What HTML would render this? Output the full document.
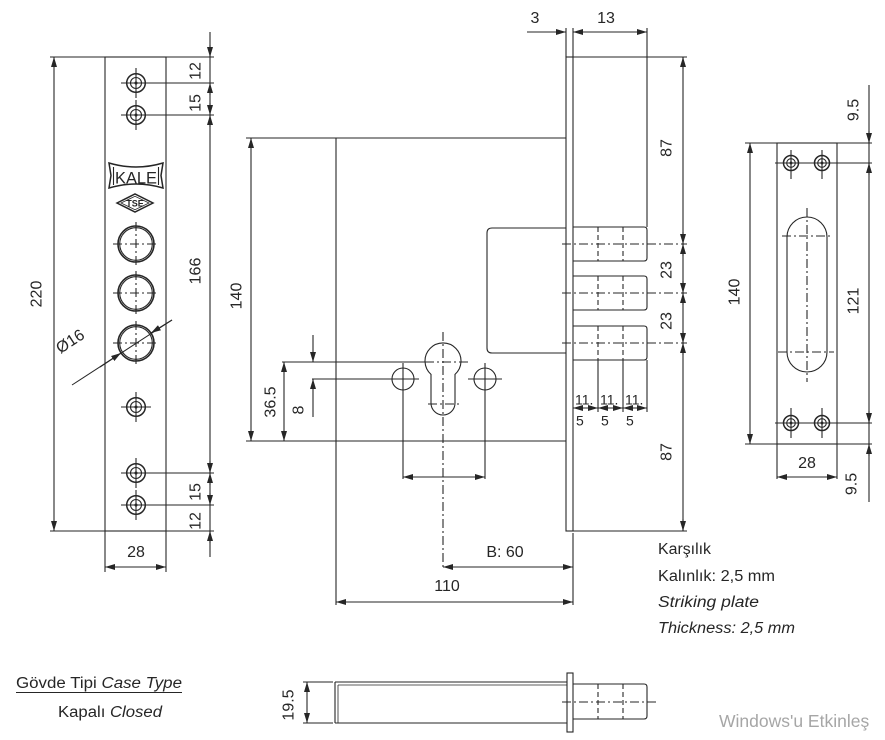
<!DOCTYPE html>
<html><head><meta charset="utf-8"><style>
html,body{margin:0;padding:0;background:#fff;}
svg{display:block;}
svg line,svg path,svg rect,svg circle,svg polygon{stroke:#262626;fill:none;stroke-width:1.1;}
.c{stroke-dasharray:9 3 2 3;}
.h{stroke-dasharray:5 3;}
.t{font-family:"Liberation Sans",sans-serif;font-size:16px;fill:#262626;}
.s{font-size:14px;}
.lab{font-size:15.5px;}
</style></head><body>
<svg width="885" height="740" viewBox="0 0 885 740" xmlns="http://www.w3.org/2000/svg">
<defs>
<marker id="e" viewBox="0 0 10 6" refX="10" refY="3" markerWidth="10" markerHeight="6" markerUnits="userSpaceOnUse" orient="auto"><path d="M0,0 L10,3 L0,6z" style="fill:#262626;stroke:none"/></marker>
<marker id="s" viewBox="0 0 10 6" refX="0" refY="3" markerWidth="10" markerHeight="6" markerUnits="userSpaceOnUse" orient="auto"><path d="M10,0 L0,3 L10,6z" style="fill:#262626;stroke:none"/></marker>
</defs>

<!-- ===== LEFT FACEPLATE ===== -->
<rect x="105" y="57" width="61" height="474"/>
<line x1="50" y1="57" x2="214" y2="57"/>
<line x1="50" y1="531" x2="214" y2="531"/>
<line x1="54" y1="57" x2="54" y2="531" marker-start="url(#s)" marker-end="url(#e)"/>
<line x1="210" y1="32" x2="210" y2="557"/>
<g marker-end="url(#e)">
<line x1="210" y1="45" x2="210" y2="57"/>
<line x1="210" y1="95" x2="210" y2="83"/>
<line x1="210" y1="103" x2="210" y2="115"/>
<line x1="210" y1="127" x2="210" y2="115"/>
<line x1="210" y1="461" x2="210" y2="473"/>
<line x1="210" y1="485" x2="210" y2="473"/>
<line x1="210" y1="493" x2="210" y2="505"/>
<line x1="210" y1="543" x2="210" y2="531"/>
</g>
<!-- small holes -->
<g>
<line x1="121" y1="83" x2="214" y2="83"/><line x1="136" y1="68" x2="136" y2="98"/>
<circle cx="136" cy="83" r="9.3" style="stroke-width:1.5"/><circle cx="136" cy="83" r="5.5"/><circle cx="136" cy="83" r="1" style="fill:#262626"/>
<line x1="121" y1="115" x2="214" y2="115"/><line x1="136" y1="100" x2="136" y2="130"/>
<circle cx="136" cy="115" r="9.3" style="stroke-width:1.5"/><circle cx="136" cy="115" r="5.5"/><circle cx="136" cy="115" r="1" style="fill:#262626"/>
<line x1="121" y1="407" x2="151" y2="407"/><line x1="136" y1="392" x2="136" y2="422"/>
<circle cx="136" cy="407" r="9.3" style="stroke-width:1.5"/><circle cx="136" cy="407" r="5.5"/><circle cx="136" cy="407" r="1" style="fill:#262626"/>
<line x1="121" y1="473" x2="214" y2="473"/><line x1="136" y1="458" x2="136" y2="488"/>
<circle cx="136" cy="473" r="9.3" style="stroke-width:1.5"/><circle cx="136" cy="473" r="5.5"/><circle cx="136" cy="473" r="1" style="fill:#262626"/>
<line x1="121" y1="505" x2="214" y2="505"/><line x1="136" y1="490" x2="136" y2="520"/>
<circle cx="136" cy="505" r="9.3" style="stroke-width:1.5"/><circle cx="136" cy="505" r="5.5"/><circle cx="136" cy="505" r="1" style="fill:#262626"/>
</g>
<!-- big circles -->
<g>
<circle cx="136" cy="244" r="18" style="stroke-width:1.6"/><circle cx="136" cy="244" r="16.3"/>
<line class="c" x1="113" y1="244" x2="159" y2="244"/><line class="c" x1="136" y1="222" x2="136" y2="266"/>
<circle cx="136" cy="293" r="18" style="stroke-width:1.6"/><circle cx="136" cy="293" r="16.3"/>
<line class="c" x1="113" y1="293" x2="159" y2="293"/><line class="c" x1="136" y1="271" x2="136" y2="315"/>
<circle cx="136" cy="343" r="18" style="stroke-width:1.6"/><circle cx="136" cy="343" r="16.3"/>
<line class="c" x1="113" y1="343" x2="159" y2="343"/><line class="c" x1="136" y1="321" x2="136" y2="365"/>
</g>
<!-- Ø16 leader -->
<line x1="72" y1="385" x2="172" y2="320" style="stroke-width:1"/>
<line x1="100" y1="367" x2="121" y2="353" marker-end="url(#e)"/>
<line x1="172" y1="320" x2="151" y2="333" marker-end="url(#e)"/>
<text class="t" transform="translate(70,341) rotate(-33)" text-anchor="middle" dy="0.35em">Ø16</text>
<!-- logo -->
<path d="M109,163 Q136,171 163,163 L161,175.5 L163,188 Q136,180 109,188 L111,175.5 Z" style="stroke-width:1.5"/>
<line x1="113.5" y1="167" x2="113.5" y2="185"/>
<line x1="158.5" y1="167" x2="158.5" y2="185"/>
<text class="t" x="136" y="183.5" text-anchor="middle" textLength="42" lengthAdjust="spacingAndGlyphs" style="font-size:17px">KALE</text>
<polygon points="117,203 135,194 153,203 135,212" style="stroke-width:1.5"/>
<polygon points="121,203 135,196.3 149,203 135,209.7" style="stroke-width:0.8"/>
<text class="t" x="135" y="206.5" text-anchor="middle" style="font-size:9px;font-weight:bold">TSE</text>
<!-- bottom 28 -->
<line x1="105" y1="531" x2="105" y2="572"/>
<line x1="166" y1="531" x2="166" y2="572"/>
<line x1="105" y1="567" x2="166" y2="567" marker-start="url(#s)" marker-end="url(#e)"/>
<text class="t" x="136" y="557" text-anchor="middle">28</text>
<!-- left plate texts -->
<text class="t" transform="translate(36,294) rotate(-90)" text-anchor="middle" dy="0.35em">220</text>
<text class="t" transform="translate(195,71) rotate(-90)" text-anchor="middle" dy="0.35em">12</text>
<text class="t" transform="translate(195,103) rotate(-90)" text-anchor="middle" dy="0.35em">15</text>
<text class="t" transform="translate(195,271) rotate(-90)" text-anchor="middle" dy="0.35em">166</text>
<text class="t" transform="translate(195,492) rotate(-90)" text-anchor="middle" dy="0.35em">15</text>
<text class="t" transform="translate(195,521) rotate(-90)" text-anchor="middle" dy="0.35em">12</text>

<!-- ===== MAIN VIEW ===== -->
<line x1="246" y1="138" x2="566" y2="138"/>
<line x1="246" y1="441" x2="566" y2="441"/>
<line x1="336" y1="138" x2="336" y2="605"/>
<line x1="251" y1="138" x2="251" y2="441" marker-start="url(#s)" marker-end="url(#e)"/>
<text class="t" transform="translate(236,296) rotate(-90)" text-anchor="middle" dy="0.35em">140</text>
<rect x="566" y="57" width="7" height="474"/>
<line x1="566" y1="28" x2="566" y2="57"/>
<line x1="573" y1="28" x2="573" y2="57"/>
<line x1="647" y1="28" x2="647" y2="227"/>
<line x1="527" y1="32" x2="566" y2="32" marker-end="url(#e)"/>
<line x1="573" y1="32" x2="647" y2="32" marker-start="url(#s)" marker-end="url(#e)"/>
<text class="t" x="535" y="23" text-anchor="middle">3</text>
<text class="t" x="606" y="23" text-anchor="middle">13</text>
<line x1="573" y1="57" x2="687" y2="57"/>
<line x1="573" y1="531" x2="687" y2="531"/>
<line x1="683" y1="57" x2="683" y2="531"/>
<g marker-end="url(#e)">
<line x1="683" y1="69" x2="683" y2="57"/>
<line x1="683" y1="232" x2="683" y2="244"/>
<line x1="683" y1="256" x2="683" y2="244"/>
<line x1="683" y1="281" x2="683" y2="293"/>
<line x1="683" y1="305" x2="683" y2="293"/>
<line x1="683" y1="331" x2="683" y2="343"/>
<line x1="683" y1="355" x2="683" y2="343"/>
<line x1="683" y1="519" x2="683" y2="531"/>
</g>
<text class="t" transform="translate(666,148) rotate(-90)" text-anchor="middle" dy="0.35em">87</text>
<text class="t" transform="translate(666,270) rotate(-90)" text-anchor="middle" dy="0.35em">23</text>
<text class="t" transform="translate(666,321) rotate(-90)" text-anchor="middle" dy="0.35em">23</text>
<text class="t" transform="translate(666,452) rotate(-90)" text-anchor="middle" dy="0.35em">87</text>
<!-- bolt box -->
<path d="M566,228 H492 Q487,228 487,233 V348 Q487,353 492,353 H566"/>
<!-- bolts -->
<path d="M573,227 H644 Q647,227 647,230 V258 Q647,261 644,261 H573"/>
<path d="M573,276 H644 Q647,276 647,279 V307 Q647,310 644,310 H573"/>
<path d="M573,326 H644 Q647,326 647,329 V357 Q647,360 644,360 H573"/>
<g>
<line class="h" x1="598" y1="227" x2="598" y2="261"/><line class="h" x1="623" y1="227" x2="623" y2="261"/>
<line class="h" x1="598" y1="276" x2="598" y2="310"/><line class="h" x1="623" y1="276" x2="623" y2="310"/>
<line class="h" x1="598" y1="326" x2="598" y2="360"/><line class="h" x1="623" y1="326" x2="623" y2="360"/>
</g>
<line class="c" x1="562" y1="244" x2="687" y2="244"/>
<line class="c" x1="562" y1="293" x2="687" y2="293"/>
<line class="c" x1="562" y1="343" x2="687" y2="343"/>
<!-- 11.5 dims -->
<line x1="598" y1="360" x2="598" y2="412"/>
<line x1="623" y1="360" x2="623" y2="412"/>
<line x1="647" y1="360" x2="647" y2="412"/>
<line x1="573" y1="408" x2="598" y2="408" marker-start="url(#s)" marker-end="url(#e)"/>
<line x1="598" y1="408" x2="623" y2="408" marker-start="url(#s)" marker-end="url(#e)"/>
<line x1="623" y1="408" x2="647" y2="408" marker-start="url(#s)" marker-end="url(#e)"/>
<text class="t s" x="575" y="404.5">11.</text>
<text class="t s" x="600" y="404.5">11.</text>
<text class="t s" x="625" y="404.5">11.</text>
<text class="t s" x="576" y="425.5">5</text>
<text class="t s" x="601" y="425.5">5</text>
<text class="t s" x="626" y="425.5">5</text>
<!-- cylinder -->
<path d="M431,374.4 A18,18 0 1 1 455,374.4 L455,403 A12,12 0 0 1 431,403 Z"/>
<line class="c" x1="443" y1="332" x2="443" y2="568"/>
<line x1="282" y1="362" x2="425" y2="362"/>
<line class="c" x1="425" y1="362" x2="468" y2="362"/>
<line class="c" x1="428" y1="404" x2="460" y2="404"/>
<!-- side holes -->
<circle cx="403" cy="379" r="11"/>
<circle cx="485" cy="379" r="11"/>
<line x1="312" y1="379" x2="419" y2="379"/>
<line x1="468" y1="379" x2="502" y2="379"/>
<line x1="403" y1="363" x2="403" y2="479"/>
<line x1="485" y1="363" x2="485" y2="479"/>
<line x1="403" y1="477" x2="485" y2="477" marker-start="url(#s)" marker-end="url(#e)"/>
<!-- 36.5 & 8 -->
<line x1="284" y1="362" x2="284" y2="441" marker-start="url(#s)" marker-end="url(#e)"/>
<text class="t" transform="translate(270,402) rotate(-90)" text-anchor="middle" dy="0.35em">36.5</text>
<line x1="313" y1="335" x2="313" y2="362" marker-end="url(#e)"/>
<line x1="313" y1="417" x2="313" y2="379" marker-end="url(#e)"/>
<text class="t" transform="translate(298,410) rotate(-90)" text-anchor="middle" dy="0.35em">8</text>
<!-- B:60 & 110 -->
<line x1="573" y1="533" x2="573" y2="605"/>
<line x1="443" y1="567" x2="573" y2="567" marker-start="url(#s)" marker-end="url(#e)"/>
<text class="t" x="505" y="557" text-anchor="middle">B: 60</text>
<line x1="336" y1="602" x2="573" y2="602" marker-start="url(#s)" marker-end="url(#e)"/>
<text class="t" x="447" y="591" text-anchor="middle">110</text>

<!-- ===== STRIKING PLATE ===== -->
<rect x="777" y="143" width="60" height="301"/>
<line x1="745" y1="143" x2="872" y2="143"/>
<line x1="745" y1="444" x2="872" y2="444"/>
<line x1="750" y1="143" x2="750" y2="444" marker-start="url(#s)" marker-end="url(#e)"/>
<text class="t" transform="translate(734,292) rotate(-90)" text-anchor="middle" dy="0.35em">140</text>
<g>
<line x1="775" y1="163" x2="872" y2="163"/><line x1="775" y1="423" x2="872" y2="423"/>
<line x1="791" y1="150" x2="791" y2="179"/><line x1="822" y1="150" x2="822" y2="179"/>
<line x1="791" y1="408" x2="791" y2="438"/><line x1="822" y1="408" x2="822" y2="438"/>
<circle cx="791" cy="163" r="7.5" style="stroke-width:1.5"/><circle cx="791" cy="163" r="4.3"/><circle cx="791" cy="163" r="0.9" style="fill:#262626"/>
<circle cx="822" cy="163" r="7.5" style="stroke-width:1.5"/><circle cx="822" cy="163" r="4.3"/><circle cx="822" cy="163" r="0.9" style="fill:#262626"/>
<circle cx="791" cy="423" r="7.5" style="stroke-width:1.5"/><circle cx="791" cy="423" r="4.3"/><circle cx="791" cy="423" r="0.9" style="fill:#262626"/>
<circle cx="822" cy="423" r="7.5" style="stroke-width:1.5"/><circle cx="822" cy="423" r="4.3"/><circle cx="822" cy="423" r="0.9" style="fill:#262626"/>
</g>
<path d="M787,237 A20,20 0 0 1 827,237 L827,352 A20,20 0 0 1 787,352 Z"/>
<line class="c" x1="807" y1="208" x2="807" y2="382"/>
<line class="c" x1="782" y1="236" x2="832" y2="236"/>
<line class="c" x1="778" y1="352" x2="834" y2="352"/>
<line x1="869" y1="85" x2="869" y2="502"/>
<g marker-end="url(#e)">
<line x1="869" y1="131" x2="869" y2="143"/>
<line x1="869" y1="175" x2="869" y2="163"/>
<line x1="869" y1="411" x2="869" y2="423"/>
<line x1="869" y1="456" x2="869" y2="444"/>
</g>
<text class="t" transform="translate(853,110) rotate(-90)" text-anchor="middle" dy="0.35em">9.5</text>
<text class="t" transform="translate(853,301) rotate(-90)" text-anchor="middle" dy="0.35em">121</text>
<text class="t" transform="translate(851,484) rotate(-90)" text-anchor="middle" dy="0.35em">9.5</text>
<line x1="777" y1="444" x2="777" y2="479"/>
<line x1="837" y1="444" x2="837" y2="479"/>
<line x1="777" y1="477" x2="837" y2="477" marker-start="url(#s)" marker-end="url(#e)"/>
<text class="t" x="807" y="468" text-anchor="middle">28</text>

<!-- labels -->
<text class="t lab" x="658" y="554" textLength="53" lengthAdjust="spacingAndGlyphs">Karşılık</text>
<text class="t lab" x="658" y="581" textLength="117" lengthAdjust="spacingAndGlyphs">Kalınlık: 2,5 mm</text>
<text class="t lab" x="658" y="607" font-style="italic" textLength="101" lengthAdjust="spacingAndGlyphs">Striking plate</text>
<text class="t lab" x="658" y="633" font-style="italic" textLength="137" lengthAdjust="spacingAndGlyphs">Thickness: 2,5 mm</text>

<text class="t lab" x="16" y="688" textLength="166" lengthAdjust="spacingAndGlyphs">Gövde Tipi <tspan font-style="italic">Case Type</tspan></text>
<line x1="16" y1="692.5" x2="182" y2="692.5" style="stroke-width:0.9"/>
<text class="t lab" x="58" y="717" textLength="104" lengthAdjust="spacingAndGlyphs">Kapalı <tspan font-style="italic">Closed</tspan></text>

<!-- ===== BOTTOM VIEW ===== -->
<line x1="335" y1="682" x2="567" y2="682"/>
<line x1="338" y1="685" x2="567" y2="685" style="stroke-width:0.8"/>
<line x1="335" y1="723" x2="567" y2="723"/>
<line x1="335" y1="682" x2="335" y2="723"/>
<line x1="338" y1="685" x2="338" y2="723" style="stroke-width:0.8"/>
<rect x="567" y="673" width="6" height="59"/>
<path d="M573,684 H644 Q647,684 647,687 V716 Q647,719 644,719 H573"/>
<line class="h" x1="598" y1="684" x2="598" y2="719"/>
<line class="h" x1="623" y1="684" x2="623" y2="719"/>
<line class="c" x1="562" y1="702" x2="658" y2="702"/>
<line x1="303" y1="682" x2="333" y2="682"/>
<line x1="303" y1="723" x2="333" y2="723"/>
<line x1="307" y1="682" x2="307" y2="723" marker-start="url(#s)" marker-end="url(#e)"/>
<text class="t" transform="translate(288,705) rotate(-90)" text-anchor="middle" dy="0.35em">19.5</text>

<text x="719" y="727" style="font-family:'Liberation Sans',sans-serif;font-size:17.5px;fill:#a6a6a6">Windows'u Etkinleş</text>
</svg>
</body></html>
